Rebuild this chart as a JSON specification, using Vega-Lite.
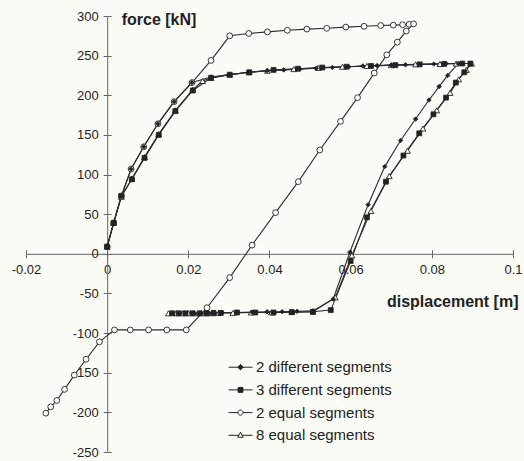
{
  "$schema": "https://vega.github.io/schema/vega-lite/v6.json",
  "width": 487,
  "height": 436,
  "autosize": "none",
  "padding": {"left": 26, "top": 16, "right": 11, "bottom": 9},
  "background": "#fcfcf6",
  "config": {"view": {"stroke": null}, "font": "Liberation Sans", "axis": {"grid": false}},
  "data": {"values": [
    {"s": "2 different segments", "i": 0, "x": 0, "y": 9},
    {"s": "2 different segments", "i": 1, "x": 0.0016, "y": 39},
    {"s": "2 different segments", "i": 2, "x": 0.0035, "y": 73},
    {"s": "2 different segments", "i": 3, "x": 0.0059, "y": 107},
    {"s": "2 different segments", "i": 4, "x": 0.009, "y": 135},
    {"s": "2 different segments", "i": 5, "x": 0.0125, "y": 164},
    {"s": "2 different segments", "i": 6, "x": 0.0165, "y": 192},
    {"s": "2 different segments", "i": 7, "x": 0.0209, "y": 216},
    {"s": "2 different segments", "i": 8, "x": 0.0256, "y": 223},
    {"s": "2 different segments", "i": 9, "x": 0.0302, "y": 226},
    {"s": "2 different segments", "i": 10, "x": 0.035, "y": 229},
    {"s": "2 different segments", "i": 11, "x": 0.0394, "y": 231},
    {"s": "2 different segments", "i": 12, "x": 0.0435, "y": 232},
    {"s": "2 different segments", "i": 13, "x": 0.0475, "y": 233},
    {"s": "2 different segments", "i": 14, "x": 0.0515, "y": 234},
    {"s": "2 different segments", "i": 15, "x": 0.0555, "y": 235},
    {"s": "2 different segments", "i": 16, "x": 0.0595, "y": 236},
    {"s": "2 different segments", "i": 17, "x": 0.063, "y": 237},
    {"s": "2 different segments", "i": 18, "x": 0.0665, "y": 237.5},
    {"s": "2 different segments", "i": 19, "x": 0.07, "y": 238},
    {"s": "2 different segments", "i": 20, "x": 0.0735, "y": 238.5},
    {"s": "2 different segments", "i": 21, "x": 0.077, "y": 239},
    {"s": "2 different segments", "i": 22, "x": 0.0805, "y": 239.5},
    {"s": "2 different segments", "i": 23, "x": 0.0835, "y": 240},
    {"s": "2 different segments", "i": 24, "x": 0.0865, "y": 240},
    {"s": "2 different segments", "i": 25, "x": 0.0839, "y": 225},
    {"s": "2 different segments", "i": 26, "x": 0.0818, "y": 211},
    {"s": "2 different segments", "i": 27, "x": 0.0793, "y": 194},
    {"s": "2 different segments", "i": 28, "x": 0.076, "y": 170},
    {"s": "2 different segments", "i": 29, "x": 0.0723, "y": 143},
    {"s": "2 different segments", "i": 30, "x": 0.0684, "y": 110},
    {"s": "2 different segments", "i": 31, "x": 0.0643, "y": 62},
    {"s": "2 different segments", "i": 32, "x": 0.0598, "y": 2},
    {"s": "2 different segments", "i": 33, "x": 0.0557, "y": -57},
    {"s": "2 different segments", "i": 34, "x": 0.0507, "y": -72},
    {"s": "2 different segments", "i": 35, "x": 0.0468, "y": -72.5},
    {"s": "2 different segments", "i": 36, "x": 0.0431, "y": -73},
    {"s": "2 different segments", "i": 37, "x": 0.0394, "y": -73},
    {"s": "2 different segments", "i": 38, "x": 0.0357, "y": -73.5},
    {"s": "2 different segments", "i": 39, "x": 0.032, "y": -74},
    {"s": "2 different segments", "i": 40, "x": 0.0283, "y": -74},
    {"s": "2 different segments", "i": 41, "x": 0.025, "y": -74.5},
    {"s": "2 different segments", "i": 42, "x": 0.0215, "y": -75},
    {"s": "2 different segments", "i": 43, "x": 0.018, "y": -75},

    {"s": "3 different segments", "i": 0, "x": 0, "y": 9},
    {"s": "3 different segments", "i": 1, "x": 0.0016, "y": 39},
    {"s": "3 different segments", "i": 2, "x": 0.0035, "y": 73},
    {"s": "3 different segments", "i": 3, "x": 0.0061, "y": 94},
    {"s": "3 different segments", "i": 4, "x": 0.0092, "y": 121},
    {"s": "3 different segments", "i": 5, "x": 0.0127, "y": 150},
    {"s": "3 different segments", "i": 6, "x": 0.0168, "y": 180},
    {"s": "3 different segments", "i": 7, "x": 0.0211, "y": 206},
    {"s": "3 different segments", "i": 8, "x": 0.0256, "y": 222},
    {"s": "3 different segments", "i": 9, "x": 0.0302, "y": 226},
    {"s": "3 different segments", "i": 10, "x": 0.035, "y": 229},
    {"s": "3 different segments", "i": 11, "x": 0.041, "y": 232},
    {"s": "3 different segments", "i": 12, "x": 0.047, "y": 233.5},
    {"s": "3 different segments", "i": 13, "x": 0.053, "y": 235},
    {"s": "3 different segments", "i": 14, "x": 0.059, "y": 236},
    {"s": "3 different segments", "i": 15, "x": 0.065, "y": 237},
    {"s": "3 different segments", "i": 16, "x": 0.071, "y": 238},
    {"s": "3 different segments", "i": 17, "x": 0.077, "y": 239},
    {"s": "3 different segments", "i": 18, "x": 0.083, "y": 239.5},
    {"s": "3 different segments", "i": 19, "x": 0.0875, "y": 240},
    {"s": "3 different segments", "i": 20, "x": 0.0895, "y": 240},
    {"s": "3 different segments", "i": 21, "x": 0.088, "y": 229},
    {"s": "3 different segments", "i": 22, "x": 0.0859, "y": 216},
    {"s": "3 different segments", "i": 23, "x": 0.0835, "y": 197},
    {"s": "3 different segments", "i": 24, "x": 0.0804, "y": 176},
    {"s": "3 different segments", "i": 25, "x": 0.0769, "y": 152},
    {"s": "3 different segments", "i": 26, "x": 0.073, "y": 124},
    {"s": "3 different segments", "i": 27, "x": 0.0687, "y": 91},
    {"s": "3 different segments", "i": 28, "x": 0.064, "y": 46},
    {"s": "3 different segments", "i": 29, "x": 0.06, "y": -9},
    {"s": "3 different segments", "i": 30, "x": 0.0551, "y": -71},
    {"s": "3 different segments", "i": 31, "x": 0.0507, "y": -73},
    {"s": "3 different segments", "i": 32, "x": 0.0455, "y": -73.5},
    {"s": "3 different segments", "i": 33, "x": 0.041, "y": -74},
    {"s": "3 different segments", "i": 34, "x": 0.0365, "y": -74},
    {"s": "3 different segments", "i": 35, "x": 0.032, "y": -74},
    {"s": "3 different segments", "i": 36, "x": 0.028, "y": -74.5},
    {"s": "3 different segments", "i": 37, "x": 0.0262, "y": -74.5},
    {"s": "3 different segments", "i": 38, "x": 0.0245, "y": -75},
    {"s": "3 different segments", "i": 39, "x": 0.0228, "y": -75},
    {"s": "3 different segments", "i": 40, "x": 0.021, "y": -75},
    {"s": "3 different segments", "i": 41, "x": 0.0193, "y": -75},
    {"s": "3 different segments", "i": 42, "x": 0.0176, "y": -75},
    {"s": "3 different segments", "i": 43, "x": 0.016, "y": -75},

    {"s": "2 equal segments", "i": 0, "x": 0, "y": 9},
    {"s": "2 equal segments", "i": 1, "x": 0.0016, "y": 39},
    {"s": "2 equal segments", "i": 2, "x": 0.0035, "y": 73},
    {"s": "2 equal segments", "i": 3, "x": 0.0059, "y": 107},
    {"s": "2 equal segments", "i": 4, "x": 0.009, "y": 135},
    {"s": "2 equal segments", "i": 5, "x": 0.0125, "y": 164},
    {"s": "2 equal segments", "i": 6, "x": 0.0165, "y": 192},
    {"s": "2 equal segments", "i": 7, "x": 0.0209, "y": 216},
    {"s": "2 equal segments", "i": 8, "x": 0.0256, "y": 244},
    {"s": "2 equal segments", "i": 9, "x": 0.0302, "y": 275},
    {"s": "2 equal segments", "i": 10, "x": 0.0349, "y": 278},
    {"s": "2 equal segments", "i": 11, "x": 0.0395, "y": 280},
    {"s": "2 equal segments", "i": 12, "x": 0.0444, "y": 282},
    {"s": "2 equal segments", "i": 13, "x": 0.0492, "y": 283.5},
    {"s": "2 equal segments", "i": 14, "x": 0.0541, "y": 284.5},
    {"s": "2 equal segments", "i": 15, "x": 0.0588, "y": 286},
    {"s": "2 equal segments", "i": 16, "x": 0.0633, "y": 287},
    {"s": "2 equal segments", "i": 17, "x": 0.0674, "y": 288},
    {"s": "2 equal segments", "i": 18, "x": 0.0705, "y": 288.5},
    {"s": "2 equal segments", "i": 19, "x": 0.0728, "y": 289},
    {"s": "2 equal segments", "i": 20, "x": 0.0744, "y": 289.5},
    {"s": "2 equal segments", "i": 21, "x": 0.0755, "y": 290},
    {"s": "2 equal segments", "i": 22, "x": 0.0737, "y": 281},
    {"s": "2 equal segments", "i": 23, "x": 0.0715, "y": 267},
    {"s": "2 equal segments", "i": 24, "x": 0.0689, "y": 251},
    {"s": "2 equal segments", "i": 25, "x": 0.0658, "y": 228},
    {"s": "2 equal segments", "i": 26, "x": 0.0617, "y": 197},
    {"s": "2 equal segments", "i": 27, "x": 0.0575, "y": 167},
    {"s": "2 equal segments", "i": 28, "x": 0.0524, "y": 131},
    {"s": "2 equal segments", "i": 29, "x": 0.0471, "y": 91},
    {"s": "2 equal segments", "i": 30, "x": 0.0415, "y": 52},
    {"s": "2 equal segments", "i": 31, "x": 0.0357, "y": 11},
    {"s": "2 equal segments", "i": 32, "x": 0.0302, "y": -30},
    {"s": "2 equal segments", "i": 33, "x": 0.0246, "y": -68},
    {"s": "2 equal segments", "i": 34, "x": 0.0195, "y": -96},
    {"s": "2 equal segments", "i": 35, "x": 0.0147, "y": -96},
    {"s": "2 equal segments", "i": 36, "x": 0.0102, "y": -96},
    {"s": "2 equal segments", "i": 37, "x": 0.0057, "y": -96},
    {"s": "2 equal segments", "i": 38, "x": 0.0018, "y": -96},
    {"s": "2 equal segments", "i": 39, "x": -0.0019, "y": -111},
    {"s": "2 equal segments", "i": 40, "x": -0.0052, "y": -133},
    {"s": "2 equal segments", "i": 41, "x": -0.0081, "y": -153},
    {"s": "2 equal segments", "i": 42, "x": -0.0105, "y": -171},
    {"s": "2 equal segments", "i": 43, "x": -0.0124, "y": -185},
    {"s": "2 equal segments", "i": 44, "x": -0.0139, "y": -193},
    {"s": "2 equal segments", "i": 45, "x": -0.0151, "y": -201},

    {"s": "8 equal segments", "i": 0, "x": 0, "y": 9},
    {"s": "8 equal segments", "i": 1, "x": 0.0016, "y": 39},
    {"s": "8 equal segments", "i": 2, "x": 0.0035, "y": 72},
    {"s": "8 equal segments", "i": 3, "x": 0.0061, "y": 95},
    {"s": "8 equal segments", "i": 4, "x": 0.0092, "y": 122},
    {"s": "8 equal segments", "i": 5, "x": 0.0127, "y": 151},
    {"s": "8 equal segments", "i": 6, "x": 0.0168, "y": 181},
    {"s": "8 equal segments", "i": 7, "x": 0.0211, "y": 207},
    {"s": "8 equal segments", "i": 8, "x": 0.0235, "y": 218},
    {"s": "8 equal segments", "i": 9, "x": 0.0256, "y": 222},
    {"s": "8 equal segments", "i": 10, "x": 0.0302, "y": 226},
    {"s": "8 equal segments", "i": 11, "x": 0.035, "y": 229},
    {"s": "8 equal segments", "i": 12, "x": 0.0395, "y": 231},
    {"s": "8 equal segments", "i": 13, "x": 0.046, "y": 233},
    {"s": "8 equal segments", "i": 14, "x": 0.052, "y": 234.5},
    {"s": "8 equal segments", "i": 15, "x": 0.058, "y": 236},
    {"s": "8 equal segments", "i": 16, "x": 0.064, "y": 237},
    {"s": "8 equal segments", "i": 17, "x": 0.07, "y": 238},
    {"s": "8 equal segments", "i": 18, "x": 0.076, "y": 239},
    {"s": "8 equal segments", "i": 19, "x": 0.082, "y": 239.5},
    {"s": "8 equal segments", "i": 20, "x": 0.086, "y": 240},
    {"s": "8 equal segments", "i": 21, "x": 0.0898, "y": 240},
    {"s": "8 equal segments", "i": 22, "x": 0.0885, "y": 232},
    {"s": "8 equal segments", "i": 23, "x": 0.0866, "y": 220},
    {"s": "8 equal segments", "i": 24, "x": 0.0845, "y": 203},
    {"s": "8 equal segments", "i": 25, "x": 0.0812, "y": 181},
    {"s": "8 equal segments", "i": 26, "x": 0.0778, "y": 158},
    {"s": "8 equal segments", "i": 27, "x": 0.074, "y": 130},
    {"s": "8 equal segments", "i": 28, "x": 0.0695, "y": 98},
    {"s": "8 equal segments", "i": 29, "x": 0.065, "y": 54},
    {"s": "8 equal segments", "i": 30, "x": 0.0603, "y": -2},
    {"s": "8 equal segments", "i": 31, "x": 0.0562, "y": -55},
    {"s": "8 equal segments", "i": 32, "x": 0.0507, "y": -73},
    {"s": "8 equal segments", "i": 33, "x": 0.0455, "y": -73.5},
    {"s": "8 equal segments", "i": 34, "x": 0.0405, "y": -74},
    {"s": "8 equal segments", "i": 35, "x": 0.0355, "y": -74},
    {"s": "8 equal segments", "i": 36, "x": 0.031, "y": -74.5},
    {"s": "8 equal segments", "i": 37, "x": 0.0275, "y": -74.5},
    {"s": "8 equal segments", "i": 38, "x": 0.026, "y": -75},
    {"s": "8 equal segments", "i": 39, "x": 0.0245, "y": -75},
    {"s": "8 equal segments", "i": 40, "x": 0.023, "y": -75},
    {"s": "8 equal segments", "i": 41, "x": 0.0215, "y": -75},
    {"s": "8 equal segments", "i": 42, "x": 0.02, "y": -75},
    {"s": "8 equal segments", "i": 43, "x": 0.0185, "y": -75},
    {"s": "8 equal segments", "i": 44, "x": 0.017, "y": -75},
    {"s": "8 equal segments", "i": 45, "x": 0.0151, "y": -75}
  ]},
  "layer": [
    {
      "mark": {"type": "line", "color": "#2b2b2b", "strokeWidth": 1.1},
      "encoding": {
        "x": {"field": "x", "type": "quantitative", "scale": {"domain": [-0.02, 0.1], "nice": false, "zero": false},
          "axis": {"orient": "bottom", "offset": -198.18, "values": [-0.02, 0, 0.02, 0.04, 0.06, 0.08, 0.1], "format": "~g",
            "labelExpr": "replace(datum.label, '\u2212', '-')", "labelFontSize": 13, "labelColor": "#222", "labelPadding": 6,
            "labelFlush": false, "labelOverlap": false, "tickSize": 4, "tickColor": "#666", "domainColor": "#666",
            "title": "displacement [m]", "titleFontSize": 16, "titleFontWeight": "bold", "titleColor": "#222",
            "titleX": 492, "titleY": 48, "titleAlign": "right", "titleBaseline": "middle"}},
        "y": {"field": "y", "type": "quantitative", "scale": {"domain": [-250, 300], "nice": false, "zero": false},
          "axis": {"orient": "left", "offset": -81.17, "values": [-250, -200, -150, -100, -50, 0, 50, 100, 150, 200, 250, 300],
            "labelExpr": "replace(datum.label, '\u2212', '-')", "labelFontSize": 13, "labelColor": "#222", "labelPadding": 5,
            "labelFlush": false, "labelOverlap": false, "tickSize": 4, "tickColor": "#666", "domainColor": "#666",
            "title": "force [kN]", "titleFontSize": 16, "titleFontWeight": "bold", "titleColor": "#222", "titleAngle": 0,
            "titleX": 14, "titleY": 3, "titleAlign": "left", "titleBaseline": "middle"}},
        "detail": {"field": "s", "type": "nominal"},
        "order": {"field": "i", "type": "quantitative"}
      }
    },
    {
      "transform": [{"filter": "datum.s === '2 equal segments'"}],
      "mark": {"type": "point", "shape": "circle", "size": 34, "filled": true, "fill": "#fcfcf6", "stroke": "#222", "strokeWidth": 0.9, "opacity": 1},
      "encoding": {
        "x": {"field": "x", "type": "quantitative",
          "axis": {"orient": "top", "offset": -237.82, "values": [-0.02, 0, 0.02, 0.04, 0.06, 0.08, 0.1], "labels": false, "domain": false, "ticks": true, "tickSize": 4, "tickWidth": 1, "tickColor": "#666", "title": null}},
        "y": {"field": "y", "type": "quantitative",
          "axis": {"orient": "right", "offset": -405.83, "values": [-250, -200, -150, -100, -50, 0, 50, 100, 150, 200, 250, 300], "labels": false, "domain": false, "ticks": true, "tickSize": 4, "tickWidth": 1, "tickColor": "#666", "title": null}}
      }
    },
    {
      "transform": [{"filter": "datum.s === '8 equal segments'"}],
      "mark": {"type": "point", "shape": "triangle-up", "size": 34, "filled": true, "fill": "#fcfcf6", "stroke": "#222", "strokeWidth": 0.9, "opacity": 1},
      "encoding": {
        "x": {"field": "x", "type": "quantitative", "axis": null},
        "y": {"field": "y", "type": "quantitative", "axis": null}
      }
    },
    {
      "transform": [{"filter": "datum.s === '2 different segments'"}],
      "mark": {"type": "point", "shape": "diamond", "size": 20, "filled": true, "fill": "#222", "stroke": "#222", "strokeWidth": 0.8, "opacity": 1},
      "encoding": {
        "x": {"field": "x", "type": "quantitative", "axis": null},
        "y": {"field": "y", "type": "quantitative", "axis": null}
      }
    },
    {
      "transform": [{"filter": "datum.s === '3 different segments'"}],
      "mark": {"type": "point", "shape": "square", "size": 24, "filled": true, "fill": "#222", "stroke": "#222", "strokeWidth": 0.8, "opacity": 1},
      "encoding": {
        "x": {"field": "x", "type": "quantitative", "axis": null},
        "y": {"field": "y", "type": "quantitative", "axis": null}
      }
    },
    {
      "transform": [{"filter": "datum.i < 0"}],
      "mark": {"type": "point", "filled": true, "strokeWidth": 1, "opacity": 1},
      "encoding": {
        "x": {"field": "x", "type": "quantitative", "axis": null},
        "y": {"field": "y", "type": "quantitative", "axis": null},
        "shape": {"field": "s", "type": "nominal",
          "scale": {"domain": ["2 different segments", "3 different segments", "2 equal segments", "8 equal segments"],
            "range": [
              "M-1.5,0H1.5M0,-0.34L0.34,0L0,0.34L-0.34,0Z",
              "M-1.5,0H1.5M-0.3,-0.3H0.3V0.3H-0.3Z",
              "M-1.5,0H-0.32M0.32,0H1.5M-0.32,0A0.32,0.32 0 1,0 0.32,0A0.32,0.32 0 1,0 -0.32,0Z",
              "M-1.5,0H-0.19M0.19,0H1.5M0,-0.38L0.34,0.24H-0.34Z"
            ]},
          "legend": {"title": null, "orient": "none", "legendX": 206, "legendY": 342.7, "padding": 0, "symbolSize": 256,
            "labelFontSize": 15, "labelColor": "#222", "labelOffset": 7, "rowPadding": 5.7, "symbolStrokeWidth": 1}},
        "fill": {"field": "s", "type": "nominal",
          "scale": {"domain": ["2 different segments", "3 different segments", "2 equal segments", "8 equal segments"],
            "range": ["#222222", "#222222", "#fcfcf6", "#fcfcf6"]},
          "legend": {"title": null, "orient": "none", "legendX": 206, "legendY": 342.7, "padding": 0, "symbolSize": 256,
            "labelFontSize": 15, "labelColor": "#222", "labelOffset": 7, "rowPadding": 5.7, "symbolStrokeWidth": 1}},
        "stroke": {"field": "s", "type": "nominal",
          "scale": {"domain": ["2 different segments", "3 different segments", "2 equal segments", "8 equal segments"],
            "range": ["#222222", "#222222", "#222222", "#222222"]},
          "legend": {"title": null, "orient": "none", "legendX": 206, "legendY": 342.7, "padding": 0, "symbolSize": 256,
            "labelFontSize": 15, "labelColor": "#222", "labelOffset": 7, "rowPadding": 5.7, "symbolStrokeWidth": 1}}
      }
    }
  ],
  "resolve": {"axis": {"x": "independent", "y": "independent"}}
}
